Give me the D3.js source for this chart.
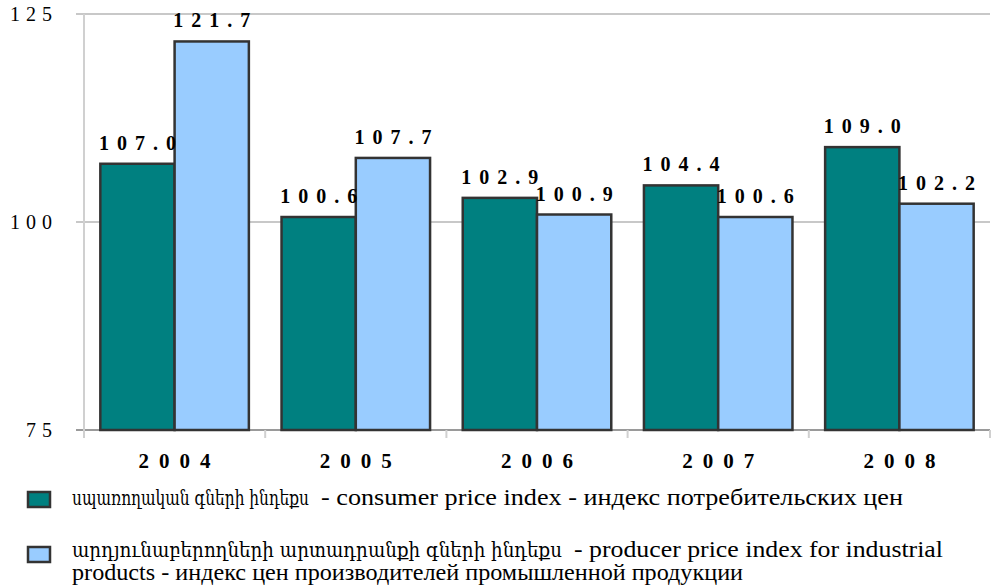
<!DOCTYPE html>
<html>
<head>
<meta charset="utf-8">
<script src="https://cdn.jsdelivr.net/npm/d3@7"></script>
<style>
  body { margin: 0; background: #fff; }
  svg { display: block; }
</style>
</head>
<body>
<script>
var years = ["2004", "2005", "2006", "2007", "2008"];
var consumer = [107.0, 100.6, 102.9, 104.4, 109.0];
var producer = [121.7, 107.7, 100.9, 100.6, 102.2];
var yTicks = [75, 100, 125];
// each legend line: [armenian part, rest]
var seriesNames = [
    [["սպառողական գների ինդեքս", "- consumer price index - индекс потребительских цен"]],
    [["արդյունաբերողների արտադրանքի գների ինդեքս", "- producer price index for industrial"],
     ["", "products - индекс цен производителей промышленной продукции"]]
];
var colors = ["#008080", "#99ccff"];

var width = 993, height = 588;
var plotLeft = 84, plotRight = 990, plotTop = 14, plotBottom = 430;

var svg = d3.select("body").append("svg")
    .attr("width", width)
    .attr("height", height);

var x = d3.scaleBand().domain(years).range([plotLeft, plotRight]);
var y = d3.scaleLinear().domain([75, 125]).range([plotBottom, plotTop]);
var inner = d3.scaleBand().domain([0, 1]).range([0, x.bandwidth()]).paddingOuter(0.22).paddingInner(0);

// gridlines + left ticks
svg.selectAll("line.grid").data(yTicks).enter().append("line")
    .attr("class", "grid")
    .attr("x1", plotLeft - 8).attr("x2", plotRight)
    .attr("y1", function (d) { return y(d); })
    .attr("y2", function (d) { return y(d); })
    .style("stroke", function (d) { return d === 75 ? "#9a9a9a" : "#c8c8c8"; })
    .style("stroke-width", "2px");

// vertical axis line
svg.append("line")
    .attr("x1", plotLeft).attr("x2", plotLeft)
    .attr("y1", plotTop).attr("y2", plotBottom)
    .style("stroke", "#d0d0d0")
    .style("stroke-width", "2px");

// category tick marks
svg.selectAll("line.ctick").data(d3.range(years.length + 1)).enter().append("line")
    .attr("x1", function (i) { return plotLeft + i * x.bandwidth(); })
    .attr("x2", function (i) { return plotLeft + i * x.bandwidth(); })
    .attr("y1", plotBottom).attr("y2", plotBottom + 8)
    .style("stroke", "#d0d0d0")
    .style("stroke-width", "2px");

// y tick labels
svg.selectAll("text.ytick").data(yTicks).enter().append("text")
    .attr("x", 58)
    .attr("y", function (d) { return y(d) + 7; })
    .attr("text-anchor", "end")
    .style("font-family", "'Liberation Serif', serif")
    .style("font-size", "20px")
    .style("letter-spacing", "6px")
    .text(function (d) { return d; });

// bars
var series = [consumer, producer];
series.forEach(function (vals, s) {
    svg.selectAll("rect.s" + s).data(vals).enter().append("rect")
        .attr("x", function (d, i) { return x(years[i]) + inner(s); })
        .attr("y", function (d) { return y(d); })
        .attr("width", inner.bandwidth())
        .attr("height", function (d) { return y(75) - y(d); })
        .style("fill", colors[s])
        .style("stroke", "#333")
        .style("stroke-width", "2.5px");
});

// value labels
series.forEach(function (vals, s) {
    svg.selectAll("text.v" + s).data(vals).enter().append("text")
        .attr("x", function (d, i) { return x(years[i]) + inner(s) + inner.bandwidth() / 2 + 4; })
        .attr("y", function (d) { return y(d) - 14; })
        .attr("text-anchor", "middle")
        .style("font-family", "'Liberation Serif', serif")
        .style("font-weight", "700")
        .style("font-size", "20px")
        .style("letter-spacing", "8px")
        .text(function (d) { return d.toFixed(1); });
});

// category labels
svg.selectAll("text.year").data(years).enter().append("text")
    .attr("x", function (d) { return x(d) + x.bandwidth() / 2 + 5; })
    .attr("y", 468)
    .attr("text-anchor", "middle")
    .style("font-family", "'Liberation Serif', serif")
    .style("font-weight", "700")
    .style("font-size", "21px")
    .style("letter-spacing", "10px")
    .text(function (d) { return d; });

// legend
var legendY = [492, 547];
var lineBase = [[505], [557, 580]];
// [armenian width, rest width] per line
var partWidths = [[[243, 588]], [[496, 375], [0, 671]]];
seriesNames.forEach(function (lines, s) {
    svg.append("rect")
        .attr("x", 28).attr("y", legendY[s])
        .attr("width", 22).attr("height", 15)
        .style("fill", colors[s])
        .style("stroke", "#333")
        .style("stroke-width", "2.5px");
    lines.forEach(function (parts, j) {
        var w = partWidths[s][j];
        if (parts[0]) {
            svg.append("text")
                .attr("x", 72)
                .attr("y", lineBase[s][j])
                .attr("textLength", w[0] - 6)
                .attr("lengthAdjust", "spacingAndGlyphs")
                .style("font-family", "'DejaVu Serif Condensed', 'DejaVu Serif', serif")
                .style("font-size", "21px")
                .text(parts[0]);
        }
        var start = parts[0] ? 72 + w[0] + 6 : 72;
        svg.append("text")
            .attr("x", start)
            .attr("y", lineBase[s][j])
            .attr("textLength", 72 + w[0] + w[1] - start)
            .attr("lengthAdjust", "spacingAndGlyphs")
            .style("font-family", "'Liberation Serif', serif")
            .style("font-size", "24px")
            .text(parts[1]);
    });
});
</script>
</body>
</html>
